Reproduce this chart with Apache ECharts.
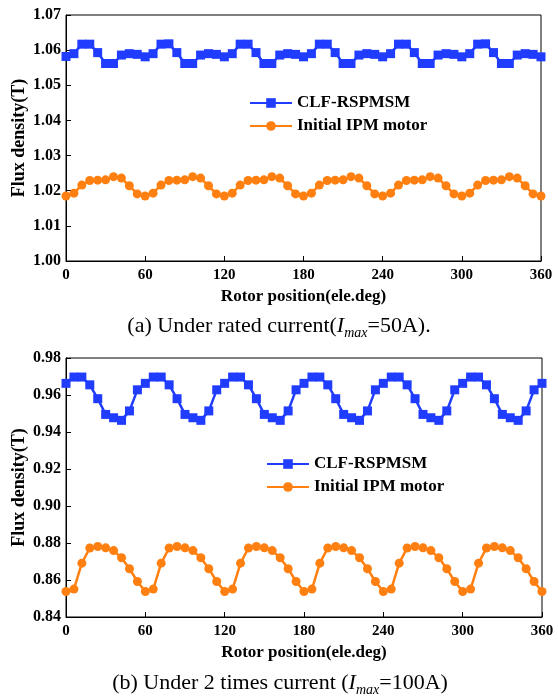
<!DOCTYPE html>
<html>
<head>
<meta charset="utf-8">
<script src="https://cdn.jsdelivr.net/npm/echarts@6/dist/echarts.min.js"></script>
<style>
  html, body { margin: 0; padding: 0; background: #fff; }
  #chart { width: 558px; height: 698px; }
</style>
</head>
<body>
<div id="chart"></div>
<script>
// Rotor position in electrical degrees (sample step 6°)
const positions = [0, 6, 12, 18, 24, 30, 36, 42, 48, 54,
  60, 66, 72, 78, 84, 90, 96, 102, 108, 114,
  120, 126, 132, 138, 144, 150, 156, 162, 168, 174,
  180, 186, 192, 198, 204, 210, 216, 222, 228, 234,
  240, 246, 252, 258, 264, 270, 276, 282, 288, 294,
  300, 306, 312, 318, 324, 330, 336, 342, 348, 354, 360];

// (a) rated current, Imax = 50 A
const ratedClf = [1.0582, 1.0590, 1.0617, 1.0617, 1.0593, 1.0562, 1.0562, 1.0586, 1.0590, 1.0588,
  1.0581, 1.0590, 1.0617, 1.0618, 1.0593, 1.0562, 1.0562, 1.0586, 1.0590, 1.0588,
  1.0581, 1.0590, 1.0617, 1.0617, 1.0593, 1.0562, 1.0562, 1.0586, 1.0590, 1.0588,
  1.0581, 1.0590, 1.0617, 1.0617, 1.0593, 1.0562, 1.0562, 1.0586, 1.0590, 1.0588,
  1.0581, 1.0590, 1.0617, 1.0617, 1.0593, 1.0562, 1.0562, 1.0586, 1.0590, 1.0588,
  1.0581, 1.0590, 1.0617, 1.0618, 1.0593, 1.0562, 1.0562, 1.0586, 1.0590, 1.0588, 1.0581];
const ratedIpm = [1.0185, 1.0193, 1.0216, 1.0229, 1.0230, 1.0231, 1.0240, 1.0236, 1.0214, 1.0191,
  1.0185, 1.0193, 1.0216, 1.0229, 1.0230, 1.0231, 1.0240, 1.0236, 1.0214, 1.0191,
  1.0185, 1.0193, 1.0216, 1.0229, 1.0230, 1.0231, 1.0240, 1.0236, 1.0214, 1.0191,
  1.0185, 1.0193, 1.0216, 1.0229, 1.0230, 1.0231, 1.0240, 1.0236, 1.0214, 1.0191,
  1.0185, 1.0193, 1.0216, 1.0229, 1.0230, 1.0231, 1.0240, 1.0236, 1.0214, 1.0191,
  1.0185, 1.0193, 1.0216, 1.0229, 1.0230, 1.0231, 1.0240, 1.0236, 1.0214, 1.0191, 1.0185];

// (b) twice rated current, Imax = 100 A
const doubleClf = [0.9663, 0.9697, 0.9697, 0.9655, 0.9580, 0.9495, 0.9477, 0.9463, 0.9514, 0.9628,
  0.9663, 0.9697, 0.9697, 0.9655, 0.9580, 0.9495, 0.9477, 0.9463, 0.9514, 0.9628,
  0.9663, 0.9697, 0.9697, 0.9655, 0.9580, 0.9495, 0.9477, 0.9463, 0.9514, 0.9628,
  0.9663, 0.9697, 0.9697, 0.9655, 0.9580, 0.9495, 0.9477, 0.9463, 0.9514, 0.9628,
  0.9663, 0.9697, 0.9697, 0.9655, 0.9580, 0.9495, 0.9477, 0.9463, 0.9514, 0.9628,
  0.9663, 0.9697, 0.9697, 0.9655, 0.9580, 0.9495, 0.9477, 0.9463, 0.9514, 0.9628, 0.9663];
const doubleIpm = [0.8538, 0.8551, 0.8691, 0.8773, 0.8781, 0.8774, 0.8759, 0.8720, 0.8661, 0.8592,
  0.8538, 0.8551, 0.8691, 0.8773, 0.8781, 0.8774, 0.8759, 0.8720, 0.8661, 0.8592,
  0.8538, 0.8551, 0.8691, 0.8773, 0.8781, 0.8774, 0.8759, 0.8720, 0.8661, 0.8592,
  0.8538, 0.8551, 0.8691, 0.8773, 0.8781, 0.8774, 0.8759, 0.8720, 0.8661, 0.8592,
  0.8538, 0.8551, 0.8691, 0.8773, 0.8781, 0.8774, 0.8759, 0.8720, 0.8661, 0.8592,
  0.8538, 0.8551, 0.8691, 0.8773, 0.8781, 0.8774, 0.8759, 0.8720, 0.8661, 0.8592, 0.8538];

const seriesNames = ['CLF-RSPMSM', 'Initial IPM motor'];
const xTicks = [0, 60, 120, 180, 240, 300, 360];
const yTicksA = [1.00, 1.01, 1.02, 1.03, 1.04, 1.05, 1.06, 1.07];
const yTicksB = [0.84, 0.86, 0.88, 0.90, 0.92, 0.94, 0.96, 0.98];
const captionA = ['(a) Under rated current(', 'I', 'max', '=50A).'];
const captionB = ['(b) Under 2 times current (', 'I', 'max', '=100A)'];

const BLUE = '#1f3cff';
const ORANGE = '#ff8010';
const FONT = '"Liberation Serif", "Times New Roman", serif';

const pairs = (ys) => positions.map((x, i) => [x, ys[i]]);

function xAxis(gridIndex) {
  return {
    type: 'value', gridIndex,
    min: xTicks[0], max: xTicks[xTicks.length - 1],
    interval: xTicks[1] - xTicks[0],
    name: 'Rotor position(ele.deg)', nameLocation: 'middle', nameGap: 27,
    nameMoveOverlap: false,
    nameTextStyle: { fontFamily: FONT, fontWeight: 'bold', fontSize: 17, color: '#000' },
    axisLine: { show: true, onZero: false, lineStyle: { color: '#000', width: 1 } },
    axisTick: { show: true, inside: true, length: 5, lineStyle: { color: '#000' } },
    axisLabel: { fontFamily: FONT, fontWeight: 'bold', fontSize: 15, color: '#000', margin: 7 },
    splitLine: { show: false }
  };
}

function yAxis(gridIndex, ticks) {
  return {
    type: 'value', gridIndex,
    min: ticks[0], max: ticks[ticks.length - 1],
    interval: +(ticks[1] - ticks[0]).toFixed(2),
    name: 'Flux density(T)', nameLocation: 'middle', nameGap: 38,
    nameMoveOverlap: false,
    nameTextStyle: { fontFamily: FONT, fontWeight: 'bold', fontSize: 18, color: '#000' },
    axisLine: { show: true, lineStyle: { color: '#000', width: 1 } },
    axisTick: { show: true, inside: true, length: 5, lineStyle: { color: '#000' } },
    axisLabel: { fontFamily: FONT, fontWeight: 'bold', fontSize: 16, color: '#000', margin: 5,
      formatter: (v) => v.toFixed(2) },
    splitLine: { show: false }
  };
}

function lineSeries(name, data, axisIndex, color, symbol, size) {
  return {
    type: 'line', name, data: pairs(data),
    xAxisIndex: axisIndex, yAxisIndex: axisIndex,
    symbol, symbolSize: size, showSymbol: true,
    lineStyle: { color, width: 2.5 },
    itemStyle: { color },
    animation: false
  };
}

function legend(left, top) {
  return {
    orient: 'vertical', left, top,
    data: seriesNames,
    itemWidth: 42, itemHeight: 12, itemGap: 5,
    textStyle: { fontFamily: FONT, fontWeight: 'bold', fontSize: 17, color: '#000', lineHeight: 18 },
    selectedMode: false
  };
}

function caption(parts, x, y) {
  return {
    type: 'text', x, y,
    style: {
      text: `{a|${parts[0]}}{i|${parts[1]}}{s|${parts[2]}}{a|${parts[3]}}`,
      align: 'center', verticalAlign: 'middle',
      rich: {
        a: { fontFamily: FONT, fontSize: 22, lineHeight: 28, fill: '#000' },
        i: { fontFamily: FONT, fontSize: 22, fontStyle: 'italic', lineHeight: 28, fill: '#000' },
        s: { fontFamily: FONT, fontSize: 14, fontStyle: 'italic', lineHeight: 14,
             verticalAlign: 'bottom', fill: '#000' }
      }
    }
  };
}

const chart = echarts.init(document.getElementById('chart'), null, { renderer: 'canvas' });
chart.setOption({
  backgroundColor: '#fff',
  animation: false,
  grid: [
    { left: 66, right: 17, top: 15, height: 246, outerBoundsMode: 'none',
      show: true, borderColor: '#000', borderWidth: 1 },
    { left: 66, right: 16, top: 358, height: 259, outerBoundsMode: 'none',
      show: true, borderColor: '#000', borderWidth: 1 }
  ],
  xAxis: [xAxis(0), xAxis(1)],
  yAxis: [yAxis(0, yTicksA), yAxis(1, yTicksB)],
  legend: [legend(244, 89), legend(261, 450)],
  series: [
    lineSeries(seriesNames[0], ratedClf, 0, BLUE, 'rect', 9),
    lineSeries(seriesNames[1], ratedIpm, 0, ORANGE, 'circle', 9),
    lineSeries(seriesNames[0], doubleClf, 1, BLUE, 'rect', 9),
    lineSeries(seriesNames[1], doubleIpm, 1, ORANGE, 'circle', 9)
  ],
  graphic: [
    caption(captionA, 279, 326),
    caption(captionB, 280, 683)
  ]
});
</script>
</body>
</html>
